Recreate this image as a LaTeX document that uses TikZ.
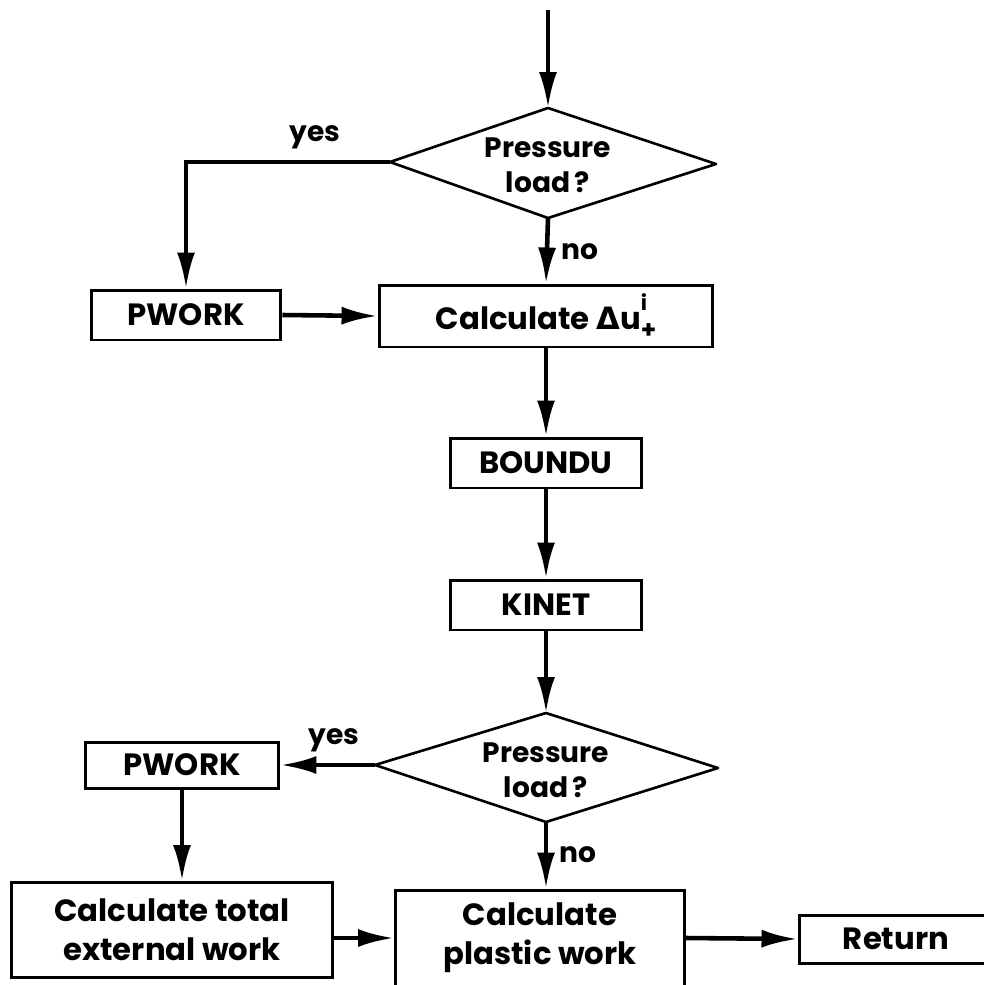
\documentclass[tikz,border=0pt]{standalone}
\usepackage{fontspec}
\setmainfont{Poppins}
\newfontfamily\greekfont{DejaVu Sans}
\usetikzlibrary{arrows.meta}
\begin{document}
\begin{tikzpicture}[x=0.02cm,y=-0.02cm,
  every node/.style={font=\bfseries\fontsize{17.5}{22}\selectfont},
  box/.style={draw,line width=1.7pt,rectangle,inner sep=0pt,align=center},
  ask/.style={align=center,inner sep=0pt,font=\bfseries\fontsize{16}{20}\selectfont},
  diamondline/.style={line width=1.5pt,line join=round},
  flow/.style={line width=2.6pt,-{Latex[length=0.72cm,width=0.36cm]}},
  lbl/.style={inner sep=0pt,font=\bfseries\fontsize{16}{19}\selectfont}]
\useasboundingbox (0,0) rectangle (984,985);

% entry point
\coordinate (entry) at (548,10);

% decision: pressure load before the displacement update
\coordinate (d1n) at (548,108);
\coordinate (d1w) at (390,162);
\coordinate (d1e) at (716,164);
\coordinate (d1s) at (548,218);
\draw[diamondline] (d1n) -- (d1e) -- (d1s) -- (d1w) -- cycle;
\node[ask] (d1) at (548,165) {Pressure\\load\,?};

\node[box,minimum width=3.8cm,minimum height=1.0cm] (p1) at (186,315) {PWORK};
\node[box,minimum width=6.68cm,minimum height=1.24cm] (calc) at (546,316)
  {Calculate {\greekfont\bfseries Δ}u\rlap{\raisebox{0.62em}{\fontsize{12}{12}\selectfont i}}\raisebox{-0.28em}{\fontsize{14}{14}\selectfont +}};
\node[box,minimum width=3.84cm,minimum height=1.0cm] (bnd) at (546,463) {BOUNDU};
\node[box,minimum width=3.82cm,minimum height=1.0cm] (kin) at (546,605) {KINET};

% decision: pressure load before the work terms
\coordinate (d2n) at (546,713);
\coordinate (d2w) at (375,765);
\coordinate (d2e) at (718,768);
\coordinate (d2s) at (546,822);
\draw[diamondline] (d2n) -- (d2e) -- (d2s) -- (d2w) -- cycle;
\node[ask] (d2) at (546,770) {Pressure\\load\,?};

\node[box,minimum width=3.88cm,minimum height=0.92cm] (p2) at (182,765) {PWORK};
\node[box,minimum width=6.42cm,minimum height=1.9cm] (tot) at (172,930)
  {Calculate total\\external work};
\node[box,minimum width=5.78cm,minimum height=1.92cm] (pla) at (540,938)
  {Calculate\\plastic work};
\node[box,minimum width=3.88cm,minimum height=0.96cm] (ret) at (896,939) {Return};

% branch labels
\node[lbl] (yes1) at (315,137) {yes};
\node[lbl] (no1) at (580,252) {no};
\node[lbl] (yes2) at (334,740) {yes};
\node[lbl] (no2) at (578,855) {no};

% connectors
\draw[flow] (entry) -- (d1n);
\draw[flow] (d1w) -| (p1.north);
\draw[flow] (d1s) -- (calc.north);
\draw[flow] (p1.east) -- (calc.west);
\draw[flow] (calc.south) -- (bnd.north);
\draw[flow] (bnd.south) -- (kin.north);
\draw[flow] (kin.south) -- (d2n);
\draw[flow] (d2w) -- (p2.east);
\draw[flow] (p2.south) -- (p2.south |- tot.north);
\draw[flow] (d2s) -- (d2s |- pla.north);
\draw[flow] (tot.east |- pla.west) -- (pla.west);
\draw[flow] (pla.east) -- (ret.west);
\end{tikzpicture}
\end{document}
